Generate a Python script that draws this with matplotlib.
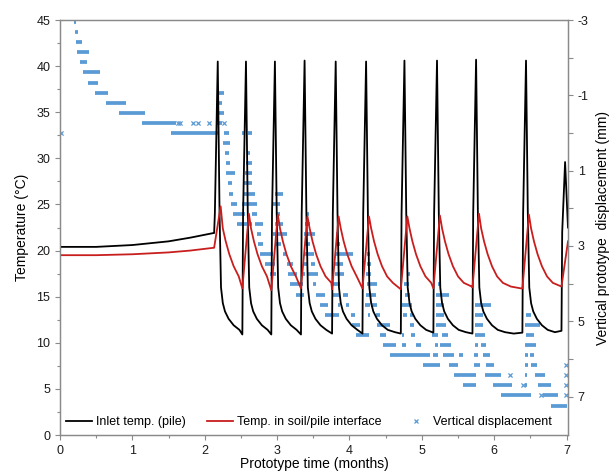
import matplotlib
matplotlib.use('Agg')
import matplotlib.pyplot as plt
from matplotlib.lines import Line2D
from matplotlib.ticker import MultipleLocator, FixedLocator

plt.rcParams['font.family'] = ['Liberation Sans', 'DejaVu Sans']
plt.rcParams['axes.unicode_minus'] = False

# --- temperatures (months, degC) ---
pre_t = [0.0, 0.5, 1.0, 1.5, 1.8, 2.12]
inlet_pre = [20.4, 20.4, 20.6, 21.0, 21.4, 21.9]
soil_pre = [19.5, 19.5, 19.6, 19.8, 20.0, 20.3]

peak_t = [2.18, 2.57, 2.97, 3.38, 3.81, 4.23, 4.76, 5.21, 5.75, 6.44]
inlet_peak = [40.5, 40.5, 40.5, 40.6, 40.5, 40.5, 40.6, 40.6, 40.7, 40.6]
inlet_start = [21.9, 10.9, 10.9, 10.9, 11.0, 11.0, 11.0, 11.1, 11.0, 11.1]
soil_peak = [24.8, 24.0, 23.9, 23.7, 23.7, 23.7, 23.7, 23.8, 24.0, 23.9]
soil_start = [20.3, 15.9, 15.7, 15.9, 15.8, 15.9, 15.8, 15.9, 16.0, 15.9]

# shape of one cycle after the peak (months after peak, degC)
inlet_decay_dt = [0.025, 0.045, 0.07, 0.10, 0.15, 0.22, 0.30, 0.40, 0.52]
inlet_decay_T = [24.0, 16.0, 14.3, 13.4, 12.6, 11.9, 11.4, 11.15, 11.0]
soil_decay_dt = [0.07, 0.11, 0.16, 0.22, 0.29, 0.37, 0.48, 0.62]
soil_decay_T = [22.4, 21.0, 19.6, 18.3, 17.2, 16.5, 16.1, 15.9]

# last, cut-off cycle
inlet_end_t = [6.93, 6.94, 6.98, 7.02]
inlet_end_T = [11.3, 22.0, 29.6, 22.5]
soil_end_t = [6.93, 7.02]
soil_end_T = [16.1, 21.0]

# --- vertical displacement (start month, end month, mm) ---
disp_runs = [
    (0.19, 0.22, -2.95), (0.21, 0.25, -2.68), (0.22, 0.30, -2.41),
    (0.24, 0.40, -2.14), (0.28, 0.37, -1.88), (0.32, 0.55, -1.61),
    (0.39, 0.53, -1.34), (0.49, 0.67, -1.07), (0.64, 0.91, -0.80),
    (0.82, 1.17, -0.54), (1.13, 1.60, -0.27), (1.53, 2.20, 0.00),
    # cycle 1
    (2.19, 2.27, -1.07), (2.17, 2.24, -0.80), (2.16, 2.26, -0.54),
    (2.15, 2.24, -0.27), (2.26, 2.34, 0.00), (2.25, 2.35, 0.27),
    (2.28, 2.34, 0.54), (2.29, 2.35, 0.80), (2.30, 2.42, 1.07),
    (2.32, 2.38, 1.34), (2.34, 2.39, 1.61), (2.37, 2.45, 1.88),
    (2.39, 2.55, 2.14), (2.44, 2.65, 2.41),
    # cycle 2
    (2.52, 2.55, 0.00), (2.60, 2.66, 0.00), (2.58, 2.62, 0.54),
    (2.57, 2.66, 0.80), (2.56, 2.66, 1.07), (2.54, 2.66, 1.34),
    (2.53, 2.69, 1.61), (2.52, 2.72, 1.88), (2.66, 2.72, 2.14),
    (2.69, 2.81, 2.41), (2.72, 2.78, 2.68), (2.74, 2.81, 2.95),
    (2.76, 2.94, 3.22), (2.83, 2.97, 3.48), (2.90, 2.99, 3.75),
    # cycle 3
    (2.97, 3.08, 1.61), (2.95, 3.04, 1.88), (2.98, 3.04, 2.14),
    (2.97, 3.08, 2.41), (2.94, 3.14, 2.68), (2.98, 3.06, 2.95),
    (3.08, 3.14, 3.22), (3.14, 3.22, 3.48), (3.15, 3.27, 3.75),
    (3.18, 3.36, 4.02), (3.26, 3.37, 4.29),
    # cycle 4
    (3.40, 3.44, 2.14), (3.38, 3.45, 2.41), (3.37, 3.52, 2.68),
    (3.39, 3.46, 2.95), (3.37, 3.51, 3.22), (3.36, 3.41, 3.48),
    (3.47, 3.52, 3.48), (3.34, 3.38, 3.75), (3.41, 3.57, 3.75),
    (3.50, 3.54, 4.02), (3.54, 3.66, 4.29), (3.59, 3.70, 4.56),
    (3.66, 3.86, 4.82),
    # cycle 5
    (3.82, 3.84, 2.68), (3.81, 3.87, 2.95), (3.80, 4.05, 3.22),
    (3.80, 3.91, 3.48), (3.80, 3.93, 3.75), (3.77, 3.87, 4.02),
    (3.77, 3.87, 4.29), (3.91, 3.98, 4.29), (3.84, 3.87, 4.56),
    (3.95, 4.00, 4.56), (4.02, 4.07, 4.82), (4.03, 4.14, 5.09),
    (4.09, 4.27, 5.36),
    # cycle 6
    (4.24, 4.28, 3.22), (4.24, 4.30, 3.48), (4.23, 4.30, 3.75),
    (4.24, 4.38, 4.02), (4.23, 4.28, 4.29), (4.30, 4.37, 4.29),
    (4.22, 4.28, 4.56), (4.30, 4.38, 4.56), (4.25, 4.28, 4.82),
    (4.36, 4.42, 4.82), (4.38, 4.56, 5.09), (4.42, 4.51, 5.36),
    (4.46, 4.65, 5.63), (4.56, 5.11, 5.90),
    # cycle 7
    (4.79, 4.83, 3.75), (4.76, 4.82, 4.02), (4.77, 4.84, 4.29),
    (4.73, 4.86, 4.56), (4.74, 4.79, 4.82), (4.84, 4.88, 4.82),
    (4.84, 4.89, 5.09), (4.72, 4.76, 5.36), (4.85, 4.91, 5.36),
    (4.73, 4.78, 5.63), (4.92, 4.99, 5.63), (5.01, 5.25, 6.16),
    # cycle 8
    (5.22, 5.27, 4.02), (5.20, 5.38, 4.29), (5.20, 5.30, 4.56),
    (5.20, 5.30, 4.82), (5.19, 5.34, 5.09), (5.14, 5.22, 5.36),
    (5.28, 5.36, 5.36), (5.18, 5.22, 5.63), (5.25, 5.40, 5.63),
    (5.16, 5.22, 5.90), (5.29, 5.45, 5.90), (5.52, 5.57, 5.90),
    (5.38, 5.50, 6.16), (5.45, 5.75, 6.43), (5.57, 5.75, 6.70),
    # cycle 9
    (5.74, 5.96, 4.56), (5.74, 5.84, 4.82), (5.73, 5.84, 5.09),
    (5.73, 5.87, 5.36), (5.73, 5.78, 5.63), (5.82, 5.89, 5.63),
    (5.72, 5.78, 5.90), (5.85, 5.94, 5.90), (5.72, 5.80, 6.16),
    (5.89, 6.00, 6.16), (5.87, 6.10, 6.43), (5.98, 6.24, 6.70),
    (6.10, 6.51, 6.97),
    # cycle 10
    (6.44, 6.51, 4.82), (6.43, 6.63, 5.09), (6.44, 6.55, 5.36),
    (6.43, 6.58, 5.63), (6.43, 6.47, 5.90), (6.50, 6.55, 5.90),
    (6.43, 6.47, 6.16), (6.51, 6.59, 6.16), (6.42, 6.46, 6.43),
    (6.57, 6.70, 6.43), (6.42, 6.46, 6.70), (6.60, 6.79, 6.70),
    (6.67, 6.88, 6.97), (6.79, 7.01, 7.24),
]
# single readings (month, mm)
disp_single_t = [0.01, 1.63, 1.66, 1.84, 1.91, 2.06, 2.26, 6.22, 6.40,
                 6.65, 6.99, 6.99, 6.99, 6.99]
disp_single_d = [0.00, -0.27, -0.27, -0.27, -0.27, -0.27, -0.27, 6.43,
                 6.70, 6.97, 6.16, 6.43, 6.70, 6.97]

# assemble the temperature series
inlet_t, inlet_T = list(pre_t), list(inlet_pre)
soil_t, soil_T = list(pre_t), list(soil_pre)
n = len(peak_t)
for i, tp in enumerate(peak_t):
    nxt = peak_t[i + 1] - 0.05 if i + 1 < n else inlet_end_t[0]
    inlet_t += [tp - 0.05, tp - 0.04, tp]
    inlet_T += [inlet_start[i], 24.0, inlet_peak[i]]
    for dt, T in zip(inlet_decay_dt, inlet_decay_T):
        if tp + dt < nxt - 0.01:
            inlet_t.append(tp + dt)
            inlet_T.append(T)
    soil_t += [tp - 0.05, tp + 0.04]
    soil_T += [soil_start[i], soil_peak[i]]
    for dt, T in zip(soil_decay_dt, soil_decay_T):
        if tp + dt < nxt - 0.01:
            soil_t.append(tp + dt)
            soil_T.append(T)
inlet_t += inlet_end_t
inlet_T += inlet_end_T
soil_t += soil_end_t
soil_T += soil_end_T

blue = '#5b9bd5'
red = '#c81e1e'
grey = '#8a8a8a'

fig = plt.figure(figsize=(6.11, 4.71), dpi=100)
ax = fig.add_axes([0.0982, 0.0764, 0.8314, 0.8811])
ax2 = ax.twinx()

l1, = ax.plot(inlet_t, inlet_T, color='black', lw=1.3)
l2, = ax.plot(soil_t, soil_T, color=red, lw=1.3)

for t0, t1, d in disp_runs:
    ax2.hlines(d, t0, t1, color=blue, lw=2.7, capstyle='butt')
ax2.scatter(disp_single_t, disp_single_d, marker='x', s=9, lw=0.9, color=blue)

ax.set_xlim(0, 7.02)
ax.set_ylim(0, 45)
ax2.set_ylim(8.02, -3)

ax.xaxis.set_major_locator(MultipleLocator(1))
ax.xaxis.set_minor_locator(MultipleLocator(0.5))
ax.yaxis.set_major_locator(MultipleLocator(5))
ax.yaxis.set_minor_locator(MultipleLocator(2.5))
ax2.yaxis.set_major_locator(FixedLocator([-3, -1, 1, 3, 5, 7]))
ax2.yaxis.set_minor_locator(FixedLocator([-2, 0, 2, 4, 6]))

for a in (ax, ax2):
    for s in a.spines.values():
        s.set_color(grey)
        s.set_linewidth(0.9)
    a.tick_params(which='both', direction='out', color=grey, width=0.8,
                  labelsize=9, labelcolor='#1a1a1a')
    a.tick_params(which='major', length=3.5)
    a.tick_params(which='minor', length=2.5)
ax2.tick_params(which='minor', length=3.5)

ax.set_xlabel('Prototype time (months)', fontsize=10, labelpad=0)
ax.set_ylabel('Temperature (°C)', fontsize=10, labelpad=5)
ax2.set_ylabel('Vertical prototype  displacement (mm)', fontsize=10, labelpad=5)

h3 = Line2D([], [], ls='none', marker='x', ms=3.5, mew=0.9, color=blue)
ax.legend([l1, l2, h3],
          ['Inlet temp. (pile)', 'Temp. in soil/pile interface', 'Vertical displacement'],
          loc='center left', bbox_to_anchor=(0.012, 0.031), ncol=3, frameon=False,
          fontsize=9, handlelength=2.1, handletextpad=0.3, columnspacing=1.7,
          borderpad=0, borderaxespad=0)
ax.set_zorder(ax2.get_zorder() + 1)
ax.patch.set_visible(False)

fig.savefig('out.png', dpi=100)
